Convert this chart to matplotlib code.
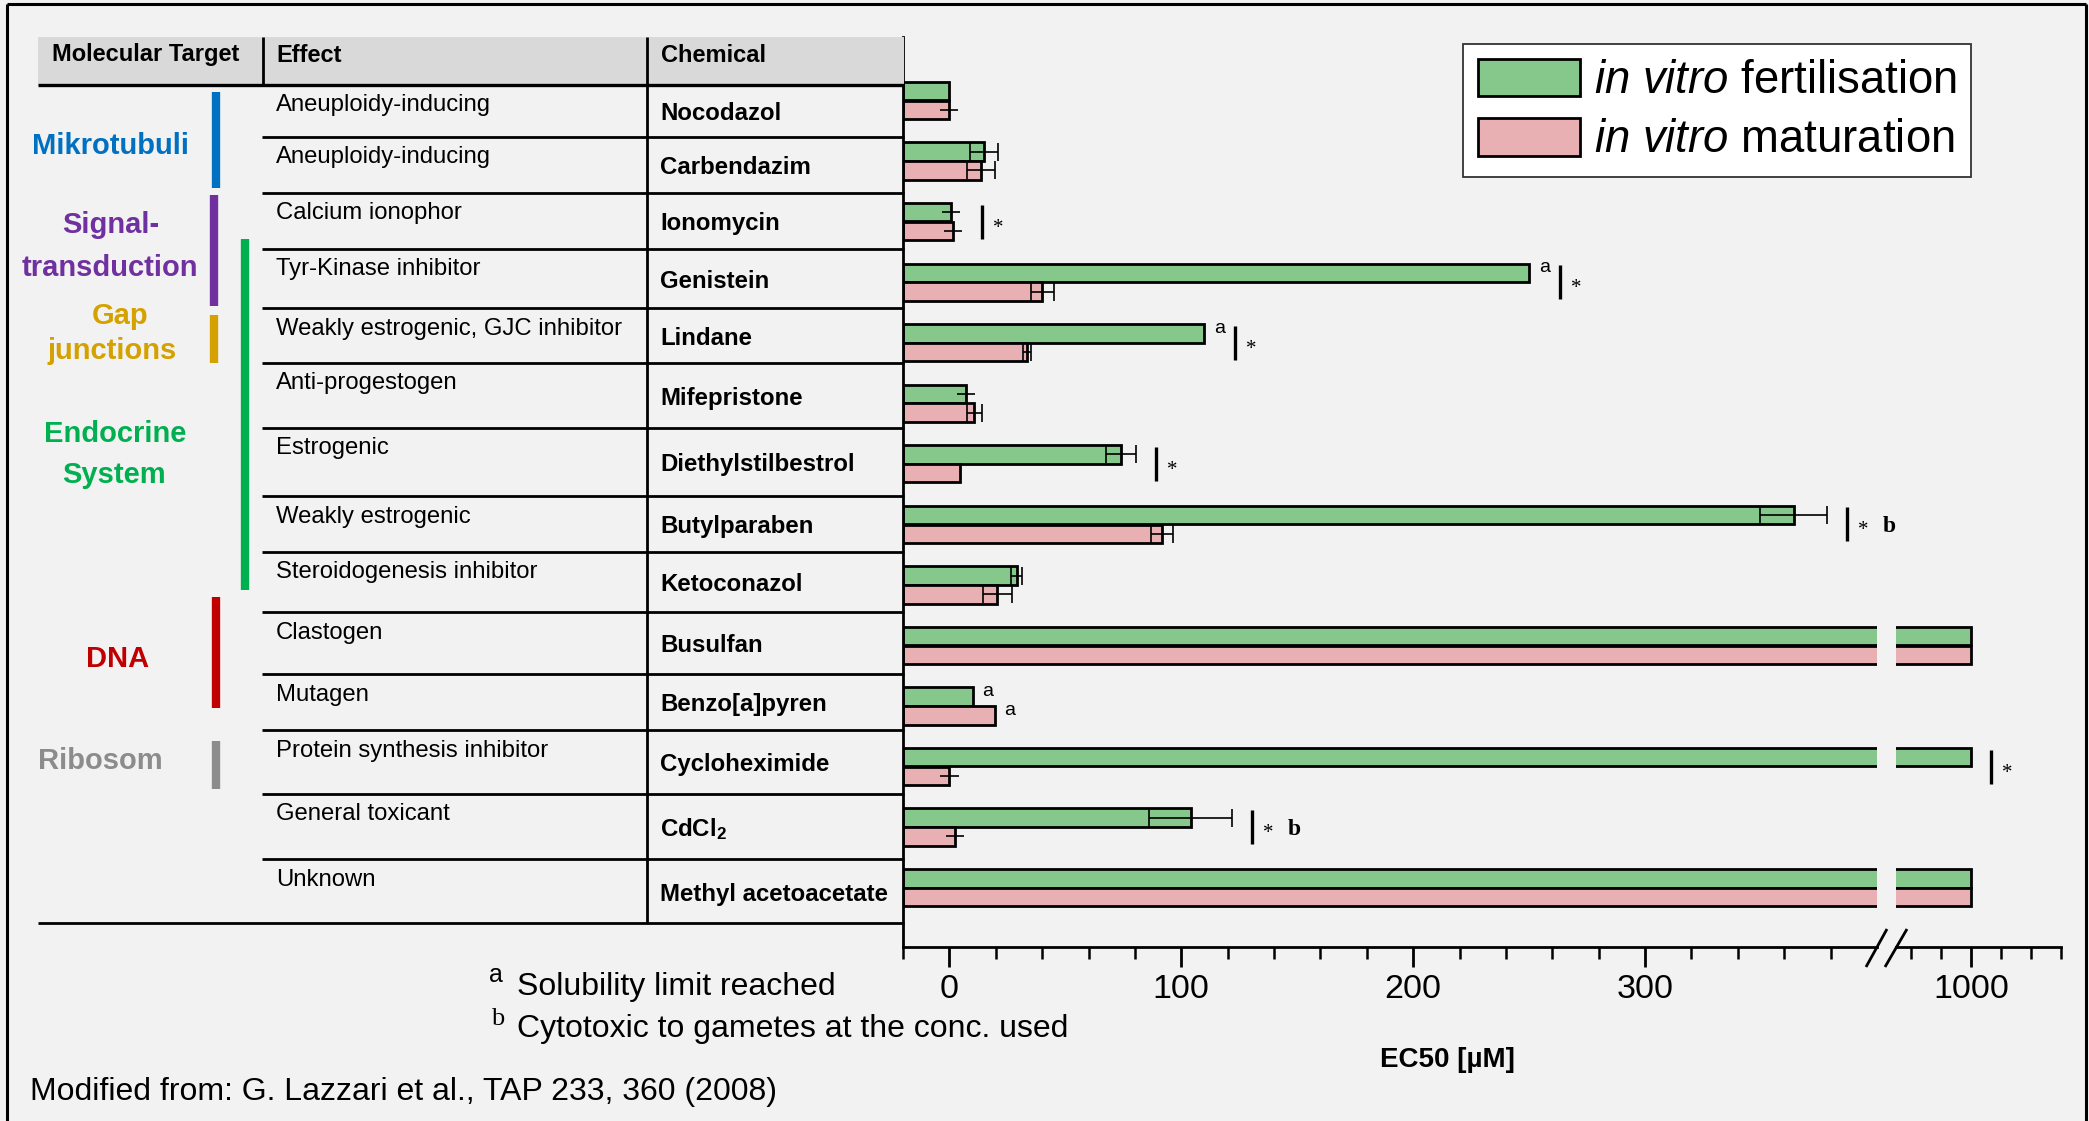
"""
EC50 of reproductive toxicants in bovine IVF / IVM assays, recreated
as a broken-axis horizontal bar chart with the classification table
drawn on the left.
"""

import numpy as np
import matplotlib
matplotlib.use("Agg")
import matplotlib.pyplot as plt
from matplotlib.lines import Line2D
from matplotlib.patches import Patch
from matplotlib.transforms import offset_copy

plt.rcParams["font.family"] = ["Liberation Sans", "DejaVu Sans"]
plt.rcParams["mathtext.fontset"] = "custom"
plt.rcParams["mathtext.rm"] = "Liberation Sans"
plt.rcParams["mathtext.it"] = "Liberation Sans:italic"
plt.rcParams["mathtext.bf"] = "Liberation Sans:bold"

# ---- data -----------------------------------------------------------
chemicals = ["Nocodazol", "Carbendazim", "Ionomycin", "Genistein", "Lindane",
             "Mifepristone", "Diethylstilbestrol", "Butylparaben",
             "Ketoconazol", "Busulfan", "Benzo[a]pyren", "Cycloheximide",
             r"CdCl$_\mathbf{2}$", "Methyl acetoacetate"]
effects = ["Aneuploidy-inducing", "Aneuploidy-inducing", "Calcium ionophor",
           "Tyr-Kinase inhibitor", "Weakly estrogenic, GJC inhibitor",
           "Anti-progestogen", "Estrogenic", "Weakly estrogenic",
           "Steroidogenesis inhibitor", "Clastogen", "Mutagen",
           "Protein synthesis inhibitor", "General toxicant", "Unknown"]

# EC50 in uM, 1000 = above the tested range
ivf = [0, 15, 0.7, 250, 110, 7, 74, 364, 29, 1000, 10, 1000, 104, 1000]
ivf_err = [0, 6, 3.8, 0, 0, 3.9, 6.4, 14.4, 2.3, 0, 0, 0, 18, 0]
ivm = [0, 13.6, 1.6, 40, 33.5, 10.7, 4.5, 91.6, 20.7, 1000, 19.7, 0, 2.5, 1000]
ivm_err = [3.9, 6, 3.8, 5, 1.8, 3.2, 0, 4.8, 6.3, 0, 0, 4, 3.8, 0]

significant = [False, False, True, True, True, False, True, True,
               False, False, False, True, True, False]
ivf_solubility = [3, 4, 10]      # superscript a
ivm_solubility = [10]
cytotoxic = [7, 12]              # b

target_lines = ["Mikrotubuli", "Signal-", "transduction", "Gap", "junctions",
                "Endocrine", "System", "DNA", "Ribosom"]
target_colors = ["#0070C0", "#7030A0", "#7030A0", "#D5A100", "#D5A100",
                 "#00B050", "#00B050", "#C00000", "#8C8C8C"]
bracket_colors = ["#0070C0", "#7030A0", "#00B050", "#D5A100", "#C00000",
                  "#8C8C8C"]

series_labels = [r"$\mathit{in\ vitro}$ fertilisation",
                 r"$\mathit{in\ vitro}$ maturation"]

# ---- layout (pixels, origin top left) -------------------------------
W, H = 2089, 1121
GREEN = "#86C88C"
PINK = "#E9B0B3"
BG = "#F2F2F2"
X0 = -20

row_edges = [85, 137, 193, 248.5, 308, 363, 427.5, 496, 551.5, 612, 674,
             730, 794, 859, 923]
target_pos = [(110, 154), (111, 233), (110, 276), (120, 324), (112, 359),
              (115, 442), (114, 483), (118, 667), (100, 769)]
bracket_pos = [(215.5, 92, 188), (213.5, 195, 306), (245, 239, 590),
               (214, 315, 363), (215.5, 597, 708), (215.5, 741, 789)]


def fx(x):
    return x / W


def fy(y):
    return 1 - y / H


def fig_line(x0, y0, x1, y1, lw=2.0, color="black"):
    fig.add_artist(Line2D([fx(x0), fx(x1)], [fy(y0), fy(y1)], lw=lw,
                          color=color, solid_capstyle="butt"))


fig = plt.figure(figsize=(W / 100, H / 100), dpi=100, facecolor=BG)

# frame round the slide
fig_line(7, 1121, 7, 4, lw=2.2)
fig_line(7, 4, 2086, 4, lw=2.2)
fig_line(2086, 4, 2086, 1121, lw=2.2)

# ---- table ----------------------------------------------------------
fig.add_artist(plt.Rectangle((fx(38), fy(85)), fx(904) - fx(38),
                             fy(37) - fy(85), transform=fig.transFigure,
                             facecolor="#D9D9D9", edgecolor="none"))
fig_line(38, 85, 904, 85, lw=2.4)
fig_line(263, 37, 263, 85, lw=2.0)
fig_line(647, 37, 647, 923, lw=2.0)
for e in row_edges[1:-1]:
    fig_line(262, e, 904, e, lw=2.0)
fig_line(38, 923, 904, 923, lw=2.0)

for txt, x in [("Molecular Target", 52), ("Effect", 276), ("Chemical", 661)]:
    fig.text(fx(x), fy(61.5), txt, fontsize=17, fontweight="bold",
             va="baseline")

for i, (eff, chem) in enumerate(zip(effects, chemicals)):
    top, bot = row_edges[i], row_edges[i + 1]
    fig.text(fx(276), fy(top + 26.5), eff, fontsize=17.2, va="baseline")
    fig.text(fx(660), fy((top + bot) / 2 + 9.5), chem, fontsize=17.3,
             fontweight="bold", va="baseline")

for txt, col, (x, y) in zip(target_lines, target_colors, target_pos):
    fig.text(fx(x), fy(y), txt, color=col, fontsize=21, fontweight="bold",
             ha="center", va="baseline")
for col, (x, y0, y1) in zip(bracket_colors, bracket_pos):
    fig_line(x, y0, x, y1, lw=6.0, color=col)

# ---- bars -----------------------------------------------------------
ax1 = fig.add_axes([fx(903), fy(947), (1877 - 903) / W, (947 - 37) / H])
ax2 = fig.add_axes([fx(1896), fy(947), (2061 - 1896) / W, (947 - 37) / H],
                   sharey=ax1)

y = np.arange(len(chemicals))
ivf_a = np.array(ivf, dtype=float)
ivm_a = np.array(ivm, dtype=float)
for ax in (ax1, ax2):
    ax.set_facecolor("none")
    ax.barh(y - 0.155, ivf_a - X0, left=X0, height=0.305, color=GREEN,
            edgecolor="black", linewidth=2.0)
    ax.barh(y + 0.155, ivm_a - X0, left=X0, height=0.305, color=PINK,
            edgecolor="black", linewidth=2.0)

# error bars; the ones near zero were drawn without caps
no_cap = {("f", 2), ("f", 5), ("m", 0), ("m", 2), ("m", 11), ("m", 12)}
for key, vals, errs, dy in (("f", ivf, ivf_err, -0.155),
                            ("m", ivm, ivm_err, 0.155)):
    for i, (v, e) in enumerate(zip(vals, errs)):
        if e <= 0:
            continue
        cap = 0 if (key, i) in no_cap else 6.5
        ax1.errorbar(v, i + dy, xerr=e, fmt="none", ecolor="black",
                     elinewidth=1.2, capsize=cap, capthick=1.2)


def shifted(ax, dx, dy):
    return offset_copy(ax.transData, fig=fig, x=dx, y=dy, units="dots")


for i in ivf_solubility:
    ax1.text(ivf[i], i - 0.155, "a", transform=shifted(ax1, 15, 5),
             fontsize=14, ha="center", va="center")
for i in ivm_solubility:
    ax1.text(ivm[i], i + 0.155, "a", transform=shifted(ax1, 15, 5),
             fontsize=14, ha="center", va="center")

for i, sig in enumerate(significant):
    if not sig:
        continue
    reach = max(ivf[i] + ivf_err[i], ivm[i] + ivm_err[i])
    ax = ax2 if reach >= 950 else ax1
    dx = 31 if i in ivf_solubility else 20
    ax.plot([reach, reach], [i - 0.28, i + 0.28], color="black", lw=2.4,
            transform=shifted(ax, dx, 0), solid_capstyle="butt")
    ax.text(reach, i, "*", transform=shifted(ax, dx + 16, -11),
            fontsize=15, family="Liberation Serif", ha="center",
            va="baseline")
    if i in cytotoxic:
        ax.text(reach, i, "b", transform=shifted(ax, dx + 42, -8),
                fontsize=17, family="Liberation Serif", fontweight="bold",
                ha="center", va="baseline")

ax1.set_ylim(13.98, -1.049)
ax1.set_xlim(X0, 400)
ax2.set_xlim(950, 1060)

ax1.set_xticks([0, 100, 200, 300])
ax1.set_xticks(np.arange(-20, 400, 20), minor=True)
ax2.set_xticks([1000])
ax2.set_xticks([960, 980, 1020, 1040, 1060], minor=True)

for ax in (ax1, ax2):
    for side in ("top", "right"):
        ax.spines[side].set_visible(False)
    ax.spines["bottom"].set_linewidth(2.0)
    ax.tick_params(axis="x", which="major", direction="out", length=14.4,
                   width=2.0, labelsize=24.5, pad=5)
    ax.tick_params(axis="x", which="minor", direction="out", length=8.4,
                   width=1.8)
    ax.tick_params(axis="y", left=False, labelleft=False)
ax1.spines["left"].set_linewidth(2.0)
ax2.spines["left"].set_visible(False)

# axis break marks
fig_line(1866, 967, 1887, 929, lw=2.0)
fig_line(1885, 967, 1907, 929, lw=2.0)

fig.text(fx(1447), fy(1066.7), "EC50 [µM]", fontsize=20, fontweight="bold",
         ha="center", va="baseline")

# legend
handles = [Patch(facecolor=GREEN, edgecolor="black", linewidth=2.0),
           Patch(facecolor=PINK, edgecolor="black", linewidth=2.0)]
leg = fig.legend(handles, series_labels, loc="upper left",
                 bbox_to_anchor=(fx(1463), fy(44)),
                 bbox_transform=fig.transFigure, fontsize=32.8,
                 frameon=True, fancybox=False, framealpha=1,
                 edgecolor="#333333", facecolor="white",
                 handlelength=2.25, handleheight=0.9, handletextpad=0.3,
                 borderpad=0.32, labelspacing=0.32, borderaxespad=0)
leg.get_frame().set_linewidth(1.3)

# footnotes
fig.text(fx(496), fy(981.7), "a", fontsize=18, ha="center", va="baseline")
fig.text(fx(517), fy(995), "Solubility limit reached", fontsize=23,
         va="baseline")
fig.text(fx(498), fy(1025), "b", fontsize=19, family="Liberation Serif",
         ha="center", va="baseline")
fig.text(fx(517), fy(1036.7), "Cytotoxic to gametes at the conc. used",
         fontsize=23, va="baseline")
fig.text(fx(30), fy(1100), "Modified from: G. Lazzari et al., TAP 233, 360 (2008)",
         fontsize=23, va="baseline")

fig.savefig("out.png", dpi=100, facecolor=BG)
